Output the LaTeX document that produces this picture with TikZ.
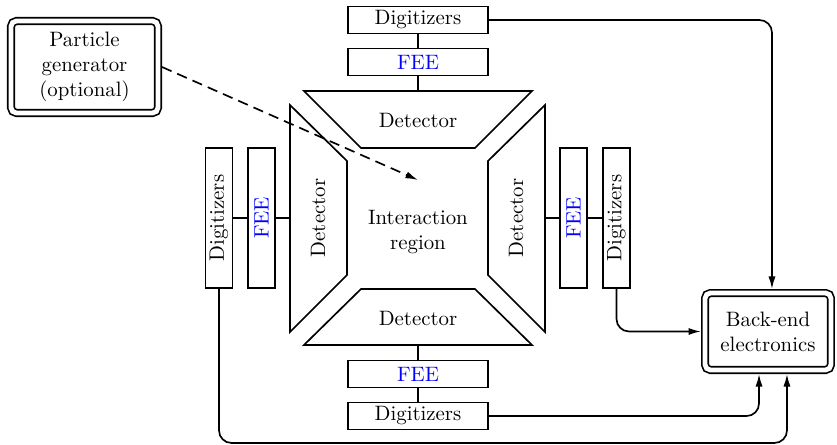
\documentclass[tikz,border=0pt]{standalone}
\usepackage{graphicx}
\usetikzlibrary{arrows.meta}
\begin{document}
\begin{tikzpicture}[x=0.48pt, y=-0.48pt, line width=0.8pt,
  hbox/.style={draw, minimum width=67.4pt, minimum height=13pt, inner sep=0pt},
  vbox/.style={draw, minimum width=13pt, minimum height=67.4pt, inner sep=0pt},
  fee/.style={text=blue},
  dbl/.style={draw, double, double distance=2.3pt, rounded corners=2.5pt,
    outer sep=1.95pt, align=center, inner sep=0pt},
  detector/.style={draw, line join=miter},
  arr/.style={-{Latex[length=6pt,width=3.4pt]}, rounded corners=6pt}]
\useasboundingbox (0,0) rectangle (837,445);

% source and back-end boxes
\node[dbl, minimum width=70.5pt, minimum height=44.1pt] (pg) at (84.5,67)
  {Particle\\generator\\(optional)};
\node[dbl, minimum width=60.4pt, minimum height=36.9pt] (be) at (768,331.5)
  {Back-end\\electronics};

% readout chains
\node[hbox] (digT) at (418,20) {Digitizers};
\node[hbox, fee] (feeT) at (418,62) {FEE};
\node[hbox, fee] (feeB) at (418,374) {FEE};
\node[hbox] (digB) at (418,416) {Digitizers};
\node[vbox] (digL) at (219,218) {\rotatebox{90}{Digitizers}};
\node[vbox, fee] (feeL) at (261.5,218) {\rotatebox{90}{FEE}};
\node[vbox, fee] (feeR) at (573.5,218) {\rotatebox{90}{FEE}};
\node[vbox] (digR) at (616.5,218) {\rotatebox{90}{Digitizers}};

% detector segments around the interaction region
\draw[detector] (304,91) -- (532,91) -- (475,148) -- (361,148) -- cycle;
\draw[detector] (304,345) -- (532,345) -- (475,289) -- (361,289) -- cycle;
\draw[detector] (290,105) -- (290,332) -- (347,275) -- (347,161) -- cycle;
\draw[detector] (545,105) -- (545,332) -- (488,275) -- (488,161) -- cycle;
\coordinate (edgeT) at (418,91);
\coordinate (edgeB) at (418,345);
\coordinate (edgeL) at (290,218);
\coordinate (edgeR) at (545,218);
\node (detT) at (418,120) {Detector};
\node (detB) at (418,318) {Detector};
\node[rotate=90] (detL) at (318,218) {Detector};
\node[rotate=90] (detR) at (516,218) {Detector};

\node[align=center] (ir) at (418,232) {Interaction\\region};
\coordinate (hit) at (418,180);

% chain links
\draw (digT) -- (feeT);
\draw (feeT) -- (edgeT);
\draw (digB) -- (feeB);
\draw (feeB) -- (edgeB);
\draw (digL) -- (feeL);
\draw (feeL) -- (edgeL);
\draw (digR) -- (feeR);
\draw (feeR) -- (edgeR);

% beam and data paths
\draw[arr, dash pattern=on 5pt off 3pt] (pg.east) -- (hit);
\draw[arr] (digT.east) -| ([xshift=1.9pt]be.north);
\draw[arr] (digR.south) |- (be.west);
\draw[arr] (digB.east) -| ([xshift=-4.3pt]be.south);
\coordinate (lowL) at (219,443);
\draw[arr] (digL.south) -- (lowL) -| ([xshift=9.1pt]be.south);
\end{tikzpicture}
\end{document}
